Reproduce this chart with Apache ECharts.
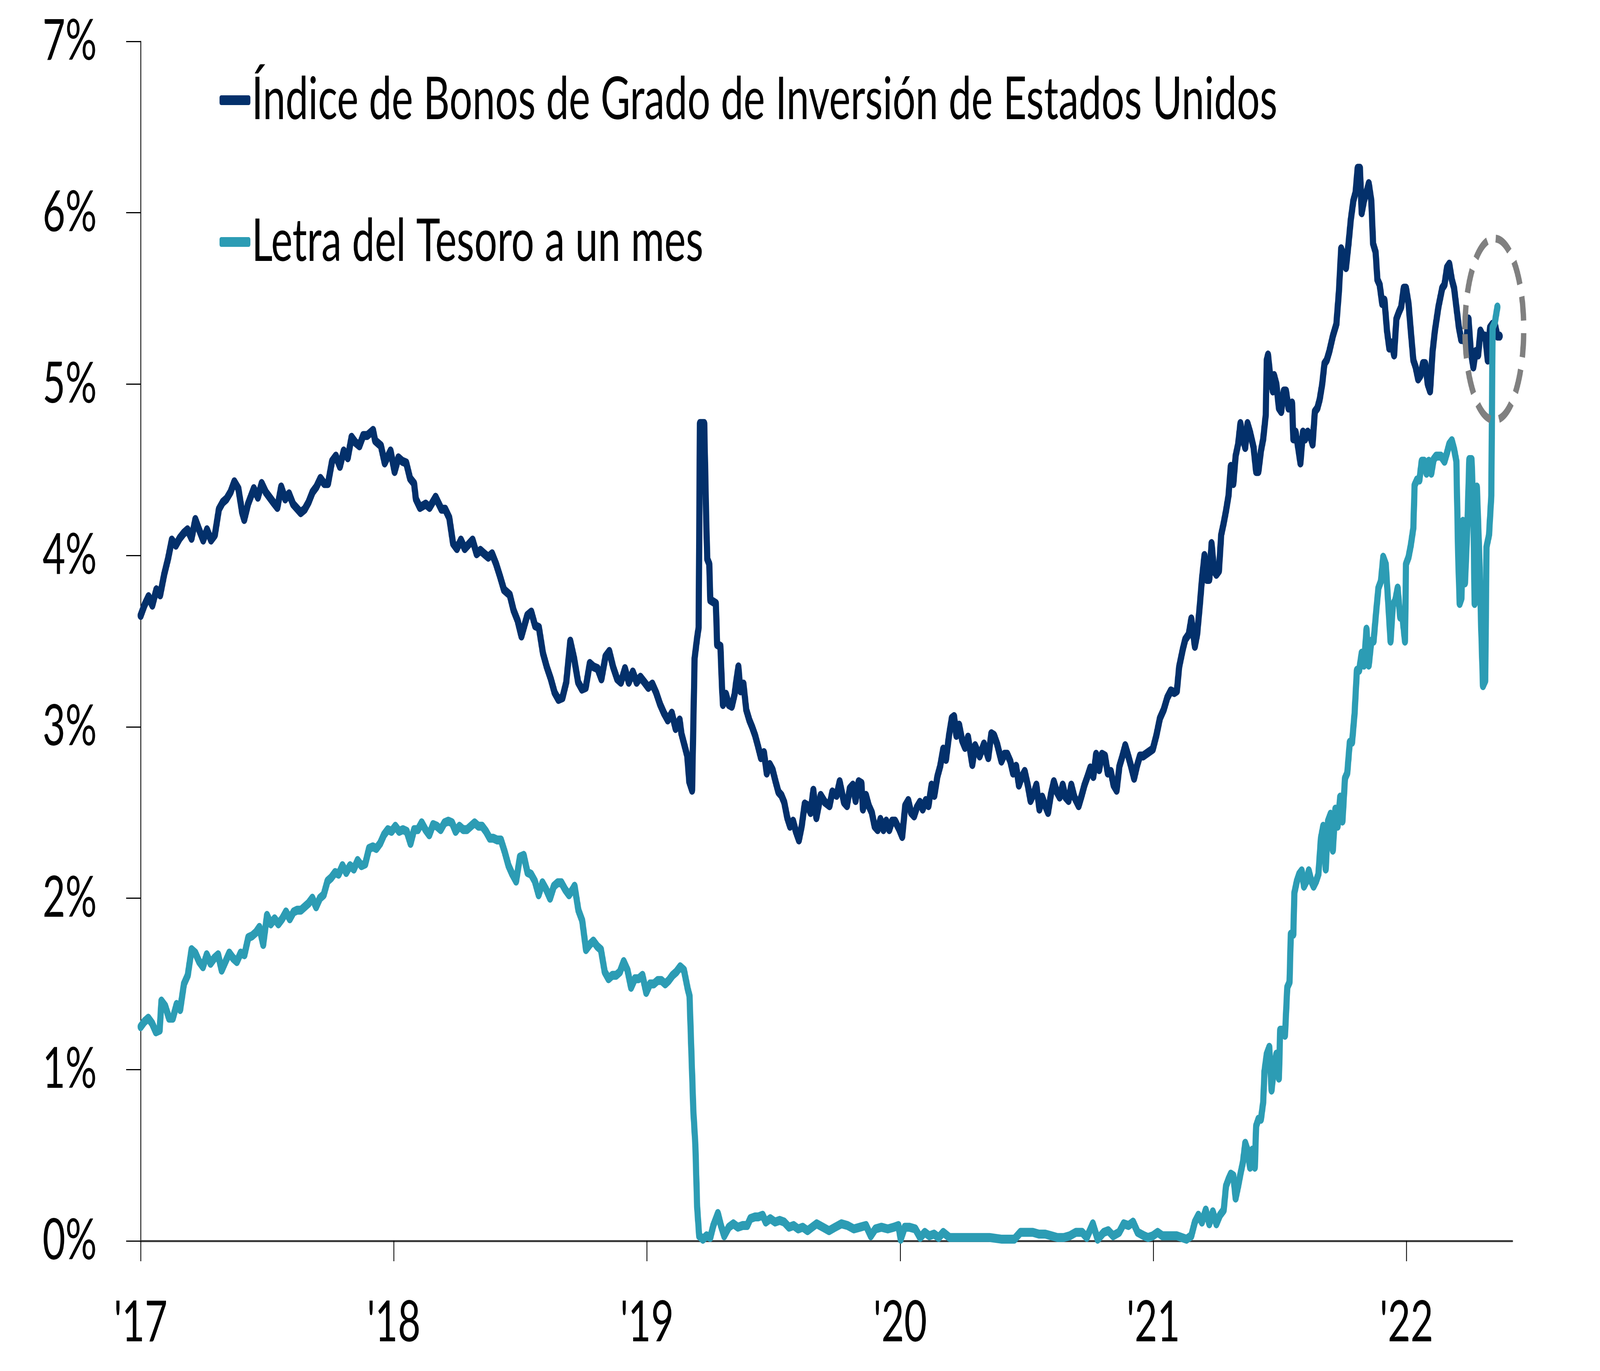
<!DOCTYPE html>
<html>
<head>
<meta charset="utf-8">
<script src="https://cdn.jsdelivr.net/npm/echarts@6/dist/echarts.min.js"></script>
<style>
html,body{margin:0;padding:0;background:#ffffff;overflow:hidden;}
#chart{width:5949px;height:3510px;transform-origin:0 0;}
</style>
</head>
<body>
<div id="chart"></div>
<script>
// ---------------- data ----------------
const seriesNames = ['Índice de Bonos de Grado de Inversión de Estados Unidos', 'Letra del Tesoro a un mes'];
const yearTicks = [2017, 2018, 2019, 2020, 2021, 2022];
const yearLabels = ["'17", "'18", "'19", "'20", "'21", "'22"];
const xRange = [2017, 2022.418];
const yRange = [0, 7];

// [decimal year, yield %]
const bondIndex = [
[2017.000,3.65],[2017.015,3.71],[2017.031,3.76],[2017.046,3.71],[2017.062,3.80],[2017.077,3.77],[2017.093,3.89],[2017.108,3.98],[2017.123,4.09],[2017.139,4.06],
[2017.154,4.10],[2017.170,4.13],[2017.185,4.15],[2017.201,4.10],[2017.216,4.21],[2017.231,4.15],[2017.247,4.09],[2017.262,4.15],[2017.278,4.09],[2017.293,4.12],
[2017.309,4.27],[2017.324,4.31],[2017.339,4.33],[2017.355,4.37],[2017.370,4.43],[2017.386,4.39],[2017.401,4.25],[2017.409,4.21],[2017.424,4.30],[2017.447,4.39],
[2017.463,4.34],[2017.478,4.42],[2017.494,4.37],[2017.524,4.31],[2017.540,4.28],[2017.555,4.40],[2017.571,4.33],[2017.586,4.36],[2017.602,4.30],[2017.632,4.25],
[2017.648,4.27],[2017.663,4.31],[2017.679,4.37],[2017.694,4.40],[2017.710,4.45],[2017.725,4.42],[2017.740,4.42],[2017.756,4.55],[2017.771,4.58],[2017.787,4.52],
[2017.802,4.61],[2017.818,4.57],[2017.833,4.69],[2017.848,4.66],[2017.864,4.64],[2017.879,4.70],[2017.895,4.70],[2017.918,4.73],[2017.926,4.67],[2017.949,4.64],
[2017.964,4.54],[2017.987,4.61],[2018.003,4.49],[2018.018,4.57],[2018.033,4.55],[2018.049,4.54],[2018.064,4.45],[2018.080,4.42],[2018.087,4.33],[2018.103,4.28],
[2018.126,4.30],[2018.141,4.28],[2018.165,4.34],[2018.188,4.27],[2018.203,4.27],[2018.219,4.22],[2018.234,4.07],[2018.249,4.04],[2018.265,4.09],[2018.280,4.04],
[2018.311,4.09],[2018.327,4.01],[2018.342,4.03],[2018.357,4.01],[2018.373,3.99],[2018.388,4.01],[2018.404,3.95],[2018.419,3.88],[2018.435,3.80],[2018.458,3.77],
[2018.473,3.68],[2018.489,3.62],[2018.504,3.53],[2018.527,3.65],[2018.543,3.67],[2018.558,3.59],[2018.573,3.58],[2018.589,3.43],[2018.604,3.35],[2018.620,3.28],
[2018.635,3.20],[2018.650,3.16],[2018.666,3.17],[2018.681,3.26],[2018.697,3.50],[2018.712,3.40],[2018.728,3.26],[2018.743,3.22],[2018.758,3.23],[2018.774,3.37],
[2018.789,3.35],[2018.805,3.34],[2018.820,3.28],[2018.836,3.41],[2018.851,3.44],[2018.866,3.35],[2018.882,3.28],[2018.897,3.26],[2018.913,3.34],[2018.928,3.26],
[2018.944,3.32],[2018.959,3.26],[2018.974,3.29],[2018.990,3.26],[2019.005,3.23],[2019.021,3.25],[2019.036,3.20],[2019.052,3.13],[2019.067,3.08],[2019.082,3.04],
[2019.098,3.08],[2019.113,2.99],[2019.129,3.04],[2019.136,2.96],[2019.152,2.87],[2019.159,2.83],[2019.167,2.68],[2019.178,2.63],[2019.188,3.40],[2019.198,3.52],
[2019.204,3.58],[2019.209,4.77],[2019.226,4.77],[2019.234,4.20],[2019.238,3.98],[2019.246,3.95],[2019.250,3.74],[2019.272,3.72],[2019.277,3.48],[2019.290,3.47],
[2019.296,3.24],[2019.300,3.13],[2019.312,3.19],[2019.323,3.13],[2019.335,3.12],[2019.346,3.19],[2019.352,3.26],[2019.361,3.35],[2019.369,3.21],[2019.381,3.25],
[2019.392,3.10],[2019.404,3.04],[2019.415,3.00],[2019.427,2.95],[2019.438,2.89],[2019.450,2.82],[2019.462,2.85],[2019.473,2.73],[2019.485,2.78],[2019.496,2.75],
[2019.508,2.68],[2019.519,2.62],[2019.531,2.60],[2019.542,2.56],[2019.554,2.47],[2019.565,2.42],[2019.577,2.45],[2019.588,2.39],[2019.600,2.34],[2019.611,2.42],
[2019.623,2.55],[2019.634,2.54],[2019.646,2.50],[2019.657,2.63],[2019.669,2.47],[2019.686,2.60],[2019.703,2.56],[2019.721,2.54],[2019.732,2.62],[2019.749,2.60],
[2019.761,2.68],[2019.778,2.56],[2019.790,2.54],[2019.801,2.64],[2019.813,2.66],[2019.824,2.57],[2019.836,2.68],[2019.847,2.67],[2019.853,2.52],[2019.865,2.60],
[2019.876,2.54],[2019.888,2.50],[2019.899,2.42],[2019.911,2.40],[2019.922,2.46],[2019.934,2.40],[2019.945,2.45],[2019.957,2.40],[2019.968,2.45],[2019.980,2.45],
[2019.997,2.40],[2020.008,2.36],[2020.020,2.54],[2020.032,2.57],[2020.043,2.50],[2020.055,2.48],[2020.066,2.53],[2020.078,2.56],[2020.089,2.52],[2020.101,2.57],
[2020.112,2.54],[2020.124,2.66],[2020.135,2.60],[2020.147,2.71],[2020.158,2.77],[2020.170,2.87],[2020.181,2.81],[2020.193,2.95],[2020.204,3.05],[2020.213,3.06],
[2020.222,2.95],[2020.233,3.01],[2020.245,2.92],[2020.256,2.88],[2020.268,2.94],[2020.285,2.78],[2020.296,2.89],[2020.314,2.83],[2020.331,2.90],[2020.348,2.82],
[2020.360,2.96],[2020.371,2.95],[2020.383,2.90],[2020.400,2.80],[2020.412,2.84],[2020.423,2.84],[2020.435,2.80],[2020.446,2.73],[2020.458,2.77],[2020.469,2.66],
[2020.481,2.71],[2020.492,2.74],[2020.504,2.66],[2020.515,2.57],[2020.527,2.61],[2020.538,2.66],[2020.550,2.52],[2020.561,2.59],[2020.573,2.54],[2020.584,2.50],
[2020.596,2.61],[2020.607,2.68],[2020.619,2.62],[2020.630,2.59],[2020.642,2.66],[2020.653,2.59],[2020.665,2.57],[2020.676,2.66],[2020.688,2.59],[2020.705,2.54],
[2020.717,2.60],[2020.728,2.66],[2020.740,2.71],[2020.751,2.76],[2020.763,2.71],[2020.774,2.84],[2020.786,2.75],[2020.797,2.84],[2020.809,2.83],[2020.820,2.73],
[2020.832,2.74],[2020.843,2.66],[2020.855,2.63],[2020.866,2.77],[2020.878,2.83],[2020.889,2.89],[2020.901,2.83],[2020.912,2.77],[2020.924,2.70],[2020.935,2.77],
[2020.947,2.83],[2020.960,2.83],[2020.979,2.85],[2020.998,2.87],[2021.012,2.95],[2021.026,3.05],[2021.041,3.10],[2021.055,3.17],[2021.069,3.21],[2021.083,3.20],
[2021.093,3.21],[2021.102,3.35],[2021.116,3.45],[2021.126,3.51],[2021.140,3.54],[2021.150,3.63],[2021.164,3.47],[2021.173,3.54],[2021.183,3.70],[2021.192,3.86],
[2021.202,4.00],[2021.211,3.86],[2021.221,3.86],[2021.230,4.07],[2021.240,3.91],[2021.249,3.89],[2021.259,3.91],[2021.268,4.12],[2021.278,4.19],[2021.287,4.26],
[2021.297,4.35],[2021.306,4.52],[2021.316,4.42],[2021.325,4.58],[2021.335,4.65],[2021.344,4.77],[2021.354,4.68],[2021.363,4.63],[2021.372,4.77],[2021.382,4.72],
[2021.396,4.63],[2021.406,4.49],[2021.415,4.49],[2021.425,4.61],[2021.434,4.68],[2021.444,4.82],[2021.448,5.14],[2021.453,5.17],[2021.463,5.03],[2021.472,4.96],
[2021.477,5.05],[2021.486,5.00],[2021.496,4.86],[2021.505,4.84],[2021.515,4.96],[2021.524,4.96],[2021.534,4.86],[2021.548,4.89],[2021.553,4.68],[2021.562,4.72],
[2021.572,4.63],[2021.581,4.54],[2021.591,4.72],[2021.600,4.68],[2021.610,4.72],[2021.619,4.70],[2021.629,4.65],[2021.638,4.84],[2021.648,4.86],[2021.657,4.91],
[2021.667,5.00],[2021.676,5.12],[2021.685,5.14],[2021.695,5.19],[2021.709,5.28],[2021.723,5.35],[2021.733,5.54],[2021.742,5.79],[2021.752,5.75],[2021.761,5.68],
[2021.771,5.82],[2021.780,5.96],[2021.790,6.07],[2021.799,6.12],[2021.807,6.26],[2021.816,6.26],[2021.823,6.00],[2021.832,6.07],[2021.842,6.12],[2021.851,6.17],
[2021.861,6.07],[2021.868,5.82],[2021.878,5.77],[2021.885,5.61],[2021.894,5.58],[2021.904,5.47],[2021.913,5.49],[2021.923,5.31],[2021.932,5.21],[2021.941,5.24],
[2021.951,5.17],[2021.960,5.38],[2021.970,5.42],[2021.979,5.45],[2021.989,5.56],[2021.998,5.56],[2022.008,5.47],[2022.017,5.31],[2022.027,5.14],[2022.036,5.10],
[2022.046,5.03],[2022.055,5.05],[2022.065,5.12],[2022.074,5.12],[2022.084,5.00],[2022.093,4.96],[2022.103,5.19],[2022.112,5.31],[2022.126,5.45],[2022.141,5.56],
[2022.150,5.58],[2022.160,5.68],[2022.169,5.70],[2022.179,5.61],[2022.188,5.56],[2022.197,5.45],[2022.207,5.33],[2022.216,5.26],[2022.226,5.26],[2022.235,5.24],
[2022.245,5.38],[2022.254,5.19],[2022.264,5.10],[2022.273,5.19],[2022.283,5.17],[2022.292,5.31],[2022.302,5.28],[2022.311,5.28],[2022.321,5.14],[2022.330,5.33],
[2022.340,5.35],[2022.349,5.35],[2022.359,5.28],[2022.368,5.28]
];

const tBill = [
[2017.000,1.25],[2017.015,1.28],[2017.030,1.30],[2017.045,1.27],[2017.060,1.22],[2017.075,1.23],[2017.082,1.40],[2017.097,1.37],[2017.112,1.30],[2017.127,1.30],
[2017.142,1.38],[2017.156,1.35],[2017.171,1.50],[2017.186,1.55],[2017.201,1.70],[2017.216,1.68],[2017.231,1.63],[2017.246,1.60],[2017.261,1.67],[2017.276,1.62],
[2017.291,1.65],[2017.306,1.67],[2017.320,1.58],[2017.335,1.63],[2017.350,1.68],[2017.365,1.65],[2017.380,1.63],[2017.395,1.68],[2017.410,1.67],[2017.425,1.77],
[2017.440,1.78],[2017.455,1.80],[2017.469,1.83],[2017.484,1.73],[2017.499,1.90],[2017.514,1.85],[2017.529,1.88],[2017.544,1.85],[2017.559,1.88],[2017.574,1.92],
[2017.589,1.88],[2017.604,1.92],[2017.618,1.93],[2017.633,1.93],[2017.648,1.95],[2017.663,1.97],[2017.678,2.00],[2017.693,1.95],[2017.708,2.00],[2017.723,2.02],
[2017.738,2.10],[2017.753,2.12],[2017.768,2.15],[2017.782,2.14],[2017.797,2.19],[2017.812,2.15],[2017.827,2.19],[2017.842,2.17],[2017.857,2.22],[2017.872,2.19],
[2017.887,2.20],[2017.902,2.29],[2017.917,2.30],[2017.931,2.29],[2017.946,2.32],[2017.961,2.37],[2017.976,2.40],[2017.991,2.39],[2018.006,2.42],[2018.021,2.39],
[2018.036,2.40],[2018.051,2.39],[2018.066,2.32],[2018.080,2.40],[2018.095,2.40],[2018.110,2.44],[2018.125,2.40],[2018.140,2.37],[2018.155,2.43],[2018.170,2.42],
[2018.185,2.40],[2018.200,2.44],[2018.215,2.45],[2018.230,2.44],[2018.244,2.39],[2018.259,2.42],[2018.274,2.40],[2018.289,2.40],[2018.304,2.42],[2018.319,2.44],
[2018.334,2.42],[2018.349,2.42],[2018.364,2.39],[2018.379,2.35],[2018.393,2.35],[2018.408,2.34],[2018.423,2.34],[2018.438,2.27],[2018.453,2.19],[2018.468,2.14],
[2018.483,2.10],[2018.498,2.24],[2018.513,2.25],[2018.528,2.15],[2018.542,2.14],[2018.557,2.10],[2018.572,2.02],[2018.587,2.09],[2018.602,2.05],[2018.617,2.00],
[2018.632,2.07],[2018.647,2.09],[2018.662,2.09],[2018.677,2.05],[2018.692,2.02],[2018.706,2.05],[2018.714,2.07],[2018.729,1.93],[2018.744,1.87],[2018.759,1.70],
[2018.774,1.73],[2018.788,1.75],[2018.803,1.72],[2018.818,1.70],[2018.833,1.57],[2018.848,1.53],[2018.863,1.55],[2018.878,1.55],[2018.893,1.57],[2018.908,1.63],
[2018.923,1.58],[2018.937,1.48],[2018.952,1.53],[2018.967,1.53],[2018.982,1.55],[2018.997,1.45],[2019.012,1.50],[2019.027,1.50],[2019.042,1.52],[2019.057,1.52],
[2019.072,1.50],[2019.086,1.52],[2019.101,1.55],[2019.116,1.57],[2019.131,1.60],[2019.146,1.58],[2019.161,1.47],[2019.168,1.43],[2019.176,1.07],[2019.183,0.76],
[2019.191,0.56],[2019.198,0.20],[2019.206,0.03],[2019.221,0.01],[2019.235,0.03],[2019.250,0.02],[2019.262,0.09],[2019.280,0.16],[2019.292,0.09],[2019.305,0.03],
[2019.323,0.08],[2019.341,0.10],[2019.359,0.08],[2019.378,0.09],[2019.396,0.09],[2019.408,0.13],[2019.426,0.14],[2019.439,0.14],[2019.457,0.15],[2019.469,0.11],
[2019.487,0.13],[2019.506,0.11],[2019.524,0.12],[2019.542,0.11],[2019.561,0.08],[2019.579,0.09],[2019.597,0.07],[2019.615,0.08],[2019.634,0.06],[2019.652,0.08],
[2019.670,0.10],[2019.695,0.08],[2019.719,0.06],[2019.743,0.08],[2019.768,0.10],[2019.792,0.09],[2019.817,0.07],[2019.841,0.08],[2019.865,0.09],[2019.884,0.03],
[2019.902,0.07],[2019.926,0.08],[2019.951,0.07],[2019.975,0.08],[2019.993,0.09],[2020.002,0.01],[2020.018,0.08],[2020.036,0.08],[2020.060,0.07],[2020.079,0.02],
[2020.097,0.05],[2020.115,0.03],[2020.134,0.04],[2020.152,0.02],[2020.170,0.05],[2020.195,0.02],[2020.219,0.02],[2020.256,0.02],[2020.304,0.02],[2020.353,0.02],
[2020.402,0.01],[2020.451,0.01],[2020.475,0.05],[2020.499,0.05],[2020.524,0.05],[2020.548,0.04],[2020.573,0.04],[2020.597,0.03],[2020.621,0.02],[2020.646,0.02],
[2020.670,0.03],[2020.694,0.05],[2020.719,0.05],[2020.737,0.02],[2020.761,0.10],[2020.780,0.01],[2020.804,0.05],[2020.822,0.06],[2020.841,0.03],[2020.865,0.05],
[2020.883,0.10],[2020.902,0.09],[2020.920,0.11],[2020.938,0.05],[2020.963,0.03],[2020.979,0.02],[2020.998,0.03],[2021.017,0.05],[2021.036,0.03],[2021.055,0.03],
[2021.074,0.03],[2021.093,0.03],[2021.112,0.02],[2021.131,0.01],[2021.150,0.03],[2021.164,0.11],[2021.178,0.15],[2021.192,0.11],[2021.207,0.18],[2021.221,0.10],
[2021.235,0.17],[2021.249,0.10],[2021.263,0.15],[2021.278,0.18],[2021.287,0.32],[2021.297,0.36],[2021.306,0.39],[2021.316,0.38],[2021.325,0.25],[2021.335,0.32],
[2021.344,0.39],[2021.354,0.46],[2021.363,0.57],[2021.372,0.53],[2021.382,0.43],[2021.391,0.53],[2021.401,0.43],[2021.406,0.67],[2021.415,0.71],[2021.425,0.71],
[2021.434,0.81],[2021.439,0.99],[2021.448,1.09],[2021.458,1.13],[2021.467,0.88],[2021.477,1.02],[2021.486,1.09],[2021.496,0.95],[2021.501,1.23],[2021.510,1.23],
[2021.520,1.20],[2021.529,1.48],[2021.538,1.51],[2021.543,1.79],[2021.553,1.79],[2021.557,2.03],[2021.567,2.10],[2021.576,2.14],[2021.586,2.16],[2021.595,2.07],
[2021.605,2.10],[2021.614,2.16],[2021.624,2.10],[2021.633,2.07],[2021.643,2.10],[2021.652,2.14],[2021.662,2.35],[2021.671,2.42],[2021.681,2.17],[2021.690,2.45],
[2021.700,2.49],[2021.709,2.28],[2021.719,2.52],[2021.728,2.42],[2021.738,2.59],[2021.747,2.45],[2021.757,2.70],[2021.766,2.73],[2021.776,2.91],[2021.785,2.91],
[2021.795,3.08],[2021.804,3.33],[2021.813,3.33],[2021.823,3.43],[2021.832,3.36],[2021.842,3.57],[2021.851,3.36],[2021.861,3.50],[2021.870,3.50],[2021.880,3.67],
[2021.889,3.81],[2021.899,3.85],[2021.908,3.99],[2021.918,3.95],[2021.927,3.74],[2021.937,3.50],[2021.946,3.71],[2021.956,3.74],[2021.965,3.81],[2021.975,3.64],
[2021.984,3.64],[2021.994,3.50],[2021.998,3.95],[2022.008,3.99],[2022.017,4.06],[2022.027,4.16],[2022.032,4.41],[2022.041,4.44],[2022.051,4.44],[2022.060,4.55],
[2022.070,4.55],[2022.079,4.48],[2022.088,4.55],[2022.098,4.48],[2022.107,4.56],[2022.117,4.58],[2022.126,4.58],[2022.136,4.58],[2022.150,4.55],[2022.160,4.60],
[2022.169,4.65],[2022.179,4.67],[2022.188,4.62],[2022.197,4.55],[2022.204,4.00],[2022.210,3.72],[2022.217,3.75],[2022.223,4.20],[2022.231,3.84],[2022.240,4.15],
[2022.248,4.56],[2022.257,4.56],[2022.264,4.27],[2022.269,3.72],[2022.278,4.40],[2022.288,3.98],[2022.295,3.58],[2022.302,3.24],[2022.311,3.27],[2022.316,4.05],
[2022.326,4.12],[2022.335,4.35],[2022.340,5.33],[2022.349,5.36],[2022.359,5.45]
];

// dashed ellipse annotation: centre and radii in data units (years, %)
const highlightCenter = [2022.347, 5.32];
const highlightRadius = [0.116, 0.53];

// ---------------- chart ----------------
const NAVY = '#03306B';
const TEAL = '#2C9CB4';
const FONT = 'Lato';
const W = 5949, H = 3510;

// fit the full-size drawing into whatever viewport the page gets
const el = document.getElementById('chart');
const sx = (window.innerWidth || W) / W;
const sy = (window.innerHeight || H) / H;
el.style.transform = 'scale(' + sx + ',' + sy + ')';

const chart = echarts.init(el, null, {renderer: 'canvas', width: W, height: H});

const option = {
  animation: false,
  backgroundColor: '#ffffff',
  textStyle: {fontFamily: FONT},
  grid: {left: 523, right: 326, top: 106, bottom: 333, containLabel: false},
  legend: {
    orient: 'vertical',
    left: 811,
    top: 176,
    itemWidth: 115,
    itemHeight: 25,
    itemGap: 212,
    icon: 'roundRect',
    selectedMode: false,
    textStyle: {fontSize: 151, color: '#000000', fontFamily: FONT},
    data: seriesNames
  },
  xAxis: {
    type: 'value',
    min: xRange[0],
    max: xRange[1],
    interval: 1,
    axisLine: {show: true, onZero: true, lineStyle: {color: '#3a3a3a', width: 5}},
    axisTick: {show: true, customValues: yearTicks, length: 52, lineStyle: {color: '#000000', width: 3}},
    axisLabel: {
      customValues: yearTicks,
      formatter: function (v) { const i = yearTicks.indexOf(Math.round(v)); return i >= 0 ? yearLabels[i] : ''; },
      fontSize: 146, color: '#000000', fontFamily: FONT, margin: 137
    },
    splitLine: {show: false}
  },
  yAxis: {
    type: 'value',
    min: yRange[0],
    max: yRange[1],
    interval: 1,
    axisLine: {show: true, lineStyle: {color: '#000000', width: 3}},
    axisTick: {show: true, length: 54, lineStyle: {color: '#000000', width: 3}},
    axisLabel: {formatter: '{value}%', fontSize: 146, color: '#000000', fontFamily: FONT, margin: 163},
    splitLine: {show: false}
  },
  series: [
    {
      name: seriesNames[0], type: 'line', data: bondIndex, showSymbol: false, symbol: 'none',
      lineStyle: {color: NAVY, width: 23, cap: 'round', join: 'round'},
      itemStyle: {color: NAVY}, z: 2
    },
    {
      name: seriesNames[1], type: 'line', data: tBill, showSymbol: false, symbol: 'none',
      lineStyle: {color: TEAL, width: 23, cap: 'round', join: 'round'},
      itemStyle: {color: TEAL}, z: 3
    }
  ]
};
chart.setOption(option);

const c = chart.convertToPixel({gridIndex: 0}, highlightCenter);
const e = chart.convertToPixel({gridIndex: 0}, [highlightCenter[0] + highlightRadius[0], highlightCenter[1] + highlightRadius[1]]);
chart.setOption({
  graphic: [{
    type: 'ellipse',
    z: 100,
    shape: {cx: c[0], cy: c[1], rx: Math.abs(e[0] - c[0]), ry: Math.abs(e[1] - c[1])},
    style: {fill: null, stroke: '#808080', lineWidth: 20, lineDash: [62, 32]}
  }]
});
</script>
</body>
</html>
